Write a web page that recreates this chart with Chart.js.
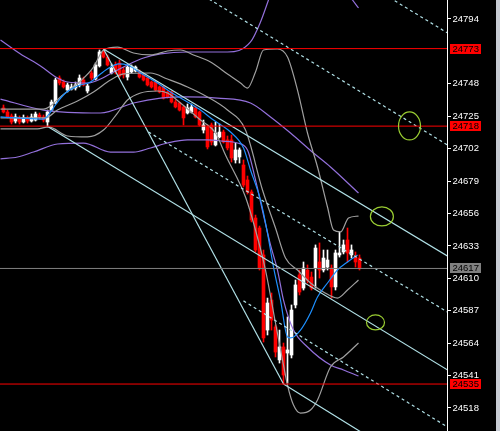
<!DOCTYPE html>
<html><head><meta charset="utf-8">
<script src="https://cdn.jsdelivr.net/npm/chart.js@4"></script>
<style>html,body{margin:0;padding:0;background:#000;overflow:hidden}canvas{display:block}</style>
</head><body>
<canvas id="c" width="500" height="431"></canvas>
<script>
// ---- candles (bar index 0..89) ----
const openP = [
24730.9,24728.0,24725.2,24721.6,24723.8,24720.9,24723.8,24721.6,24722.3,24725.9,
24724.5,24720.9,24729.4,24734.4,24752.1,24749.3,24743.6,24744.3,24745.0,24747.2,
24750.7,24742.9,24755.7,24751.4,24760.7,24770.6,24767.0,24755.7,24761.4,24762.8,
24757.8,24752.8,24756.4,24757.1,24756.4,24754.3,24752.1,24749.3,24749.3,24745.8,
24745.8,24742.2,24742.2,24735.1,24734.4,24731.6,24727.3,24728.0,24730.9,24728.0,
24715.2,24717.4,24718.8,24704.6,24710.3,24713.8,24708.2,24708.2,24694.0,24696.1,
24690.4,24679.8,24671.3,24652.8,24645.7,24626.6,24573.3,24594.6,24575.5,24552.1,
24561.3,24557.0,24555.6,24591.1,24612.4,24603.1,24615.9,24610.9,24617.3,24621.6,
24615.9,24618.0,24617.3,24603.9,24626.6,24628.7,24637.2,24626.6,24625.1,24624.4];
const highP = [
24733.0,24729.4,24726.6,24726.6,24725.2,24725.9,24725.2,24726.6,24728.0,24727.3,
24725.9,24729.4,24736.5,24752.1,24753.6,24750.7,24748.6,24747.9,24749.3,24754.3,
24752.8,24747.9,24757.1,24762.8,24772.0,24772.0,24768.5,24762.1,24763.5,24764.9,
24759.9,24761.4,24761.4,24760.7,24757.8,24755.0,24752.8,24750.0,24750.0,24746.5,
24746.5,24742.9,24742.9,24736.5,24735.1,24732.3,24733.7,24733.7,24732.3,24728.7,
24722.3,24718.8,24720.2,24720.9,24719.5,24715.2,24711.0,24711.7,24706.0,24702.5,
24694.0,24682.6,24672.7,24654.9,24647.1,24630.1,24596.0,24599.6,24576.9,24573.3,
24564.1,24582.6,24591.1,24608.8,24615.9,24621.6,24619.5,24614.5,24633.7,24635.1,
24630.1,24630.1,24619.5,24630.1,24642.9,24637.2,24645.7,24633.7,24628.7,24626.6];
const lowP = [
24727.3,24723.8,24719.5,24720.2,24719.5,24720.2,24720.2,24720.9,24721.6,24723.0,
24720.9,24717.4,24728.7,24733.7,24747.2,24745.0,24742.2,24743.6,24743.6,24745.8,
24746.5,24741.5,24750.7,24750.7,24759.9,24766.3,24760.7,24755.0,24755.0,24752.8,
24752.1,24750.7,24755.7,24756.4,24752.1,24750.0,24746.5,24745.0,24742.9,24741.5,
24737.2,24737.9,24734.4,24730.9,24728.7,24718.8,24726.6,24727.3,24723.8,24718.1,
24713.1,24701.8,24704.6,24703.9,24709.6,24706.0,24701.1,24692.5,24691.8,24691.8,
24674.8,24669.8,24650.0,24628.7,24615.9,24564.8,24569.8,24573.3,24554.2,24549.9,
24535.0,24535.7,24553.5,24589.0,24598.2,24601.7,24606.7,24601.7,24603.1,24610.2,
24614.5,24615.9,24596.0,24601.7,24625.1,24627.3,24621.6,24624.4,24618.0,24615.9];
const closeP = [
24728.0,24724.5,24720.9,24724.5,24720.9,24723.8,24721.6,24724.5,24726.6,24724.5,
24722.3,24728.0,24735.1,24750.7,24748.6,24745.8,24747.2,24745.8,24747.2,24752.1,
24747.2,24746.5,24752.1,24761.4,24770.6,24767.0,24761.4,24759.2,24756.4,24753.6,
24754.3,24759.9,24759.9,24759.9,24752.8,24750.7,24747.2,24745.8,24743.6,24742.2,
24737.9,24738.7,24735.1,24731.6,24729.4,24723.8,24730.9,24731.6,24724.5,24718.8,
24718.8,24703.2,24706.7,24713.1,24713.8,24706.7,24702.5,24695.4,24701.1,24701.1,
24676.2,24671.3,24651.4,24630.1,24617.3,24567.7,24592.5,24580.4,24557.7,24561.3,
24541.4,24559.2,24587.5,24605.3,24600.3,24617.3,24608.8,24603.1,24631.5,24615.9,
24624.4,24623.0,24603.9,24628.0,24628.0,24633.7,24628.0,24630.1,24621.6,24617.3];

// ---- indicator lines: [barIndex, price] ----
const maBlue = [[-0.75,24724.5],[3.5,24723.8],[10,24723.0],[11.75,24728.0],[13.5,24735.1],[15.5,24741.5],[18.5,24746.5],[21.75,24749.3],[24.25,24755.0],[26.75,24759.9],[28.75,24762.1],[31,24761.4],[34.25,24755.7],[38.5,24748.6],[41.75,24742.2],[46,24735.1],[49.25,24729.4],[52.5,24722.3],[56.75,24713.8],[60,24702.5],[61.75,24686.9],[64.25,24665.6],[66,24642.1],[67.5,24618.0],[69.25,24594.6],[71,24568.4],[71.75,24567.7],[74.25,24573.3],[76.75,24585.4],[78.5,24596.7],[81,24606.7],[83.5,24615.9],[86,24621.6],[88.5,24626.6]];
const purpleUpper = [[-0.75,24779.1],[4.25,24769.2],[9.25,24760.7],[13.5,24752.1],[16,24749.3],[21,24748.6],[24.25,24751.4],[27.5,24756.4],[30.5,24760.7],[35,24766.3],[39.25,24769.2],[46,24770.6],[56,24770.6],[61.75,24777.7],[64.25,24791.9],[66.25,24807.5],[68,24821.7],[76.75,24850.1],[85.5,24814.6],[87.25,24807.5],[88.75,24801.8]];
const purpleMid = [[-0.75,24737.2],[10,24729.4],[24.25,24727.3],[32.5,24734.4],[39.25,24737.9],[46,24738.7],[53.5,24737.9],[61.75,24734.4],[66.75,24724.5],[71.75,24713.1],[77.5,24698.9],[81.75,24689.0],[88.75,24670.5]];
const purpleLower = [[-0.75,24694.7],[3.5,24696.1],[7.5,24699.6],[13.5,24705.3],[20,24706.0],[26.75,24699.6],[32.5,24699.6],[36.75,24702.5],[41,24706.0],[46,24708.2],[51,24708.2],[54.75,24707.4],[58.5,24706.0],[61,24701.1],[63,24679.8],[65,24654.9],[66.75,24633.7],[68.5,24615.9],[70,24594.6],[72.5,24573.3],[76,24561.3],[81.75,24548.5],[85,24545.0],[88.75,24540.7]];
const grayUpper = [[-0.75,24730.1],[10,24730.1],[11.75,24732.3],[14.25,24738.7],[19.25,24750.0],[22.5,24759.9],[25,24772.0],[28.5,24774.1],[32.5,24769.9],[36.75,24768.5],[41,24771.3],[44.25,24772.0],[47.5,24768.5],[51.75,24763.5],[56,24755.0],[59.25,24748.6],[61,24745.0],[63,24756.4],[65,24772.0],[68.5,24772.7],[71,24767.0],[73.5,24743.6],[76,24713.1],[78.5,24689.0],[81,24660.6],[82.5,24644.3],[84.25,24642.9],[86.25,24652.8],[88.75,24654.2]];
const grayMid = [[-0.75,24723.8],[10.5,24723.8],[13.5,24729.4],[18.5,24735.8],[22.5,24742.2],[26.75,24750.7],[30,24755.0],[36.75,24755.7],[41,24751.4],[46,24745.8],[51,24738.7],[56,24729.4],[60.5,24715.2],[64.75,24672.7],[68,24645.7],[70.5,24624.4],[73.5,24615.9],[76.75,24606.7],[80,24600.3],[83.5,24596.0],[86,24601.7],[88.75,24608.8]];
const grayLower = [[-0.75,24716.0],[8.5,24716.0],[11.25,24717.4],[16,24711.0],[21,24710.3],[25,24715.2],[28.5,24727.3],[31,24736.5],[34.25,24741.5],[38.5,24742.9],[41,24741.5],[44.25,24734.4],[49.25,24722.3],[53,24713.1],[55.5,24697.5],[60.5,24667.7],[63,24644.3],[65.5,24615.9],[68,24578.3],[69.75,24552.1],[71,24534.3],[72.5,24520.1],[74.25,24514.4],[76.75,24516.6],[78.5,24523.7],[81.75,24547.1],[85,24554.2],[88.75,24564.1]];

// ---- trend lines ----
const trendSolid1 = [[25,24772.7],[111,24625.8]];
const trendSolid2 = [[11.25,24717.4],[111,24545.0]];
const trendSteep  = [[25,24772.7],[70,24535.0]];
const trendSolid3 = [[70,24535.0],[111,24463.0]];
const trendDash0 = [[85,24829.1],[111,24784.1]];
const trendDash1 = [[45,24819.2],[111,24704.6]];
const trendDash2 = [[36.25,24713.8],[111,24586.1]];
const trendDash3 = [[60,24594.0],[111,24504.5]];

// ---- levels and axis ----
const redLevels = [24773, 24718, 24535];
const lastPrice = 24617;
const yTicks = [24518,24541,24564,24587,24610,24633,24656,24679,24702,24725,24748,24794];
const marks = [[101.5,24718.1,11,14],[94.6,24653.9,11.5,9.5],[93,24578.7,9,7.5]]; // [bar, price, rx, ry]

const Y_MIN = 24501.68, Y_MAX = 24807.48;
const X_MIN = -0.875, X_MAX = 110.875;

const BULL = '#ffffff', BEAR = '#ff0000';
const candleColor = i => closeP[i] >= openP[i] ? BULL : BEAR;
const toXY = pts => pts.map(p => ({x:p[0], y:p[1]}));
function lineDS(pts, color, extra) {
  return Object.assign({type:'line', data:toXY(pts), borderColor:color, borderWidth:1.2,
    pointRadius:0, fill:false, cubicInterpolationMode:'monotone', order:0}, extra||{});
}
const CYAN = '#b0e0e6', GRAY = '#a0a0a0', PURPLE = '#9370db', BLUE = '#1e90ff';

const datasets = [];
redLevels.forEach(v => datasets.push(lineDS([[X_MIN-1,v],[X_MAX+1,v]], '#ff0000', {borderWidth:1})));
datasets.push(lineDS([[X_MIN-1,lastPrice],[X_MAX+1,lastPrice]], '#808080', {borderWidth:1}));
[trendSolid1,trendSolid2,trendSteep,trendSolid3].forEach(t => datasets.push(lineDS(t, CYAN)));
[trendDash0,trendDash1,trendDash2,trendDash3].forEach(t => datasets.push(lineDS(t, CYAN, {borderDash:[3,3]})));
datasets.push(lineDS(maBlue, BLUE));
[grayUpper,grayMid,grayLower].forEach(t => datasets.push(lineDS(t, GRAY)));
[purpleUpper,purpleMid,purpleLower].forEach(t => datasets.push(lineDS(t, PURPLE)));
datasets.push({type:'bar', data: openP.map((o,i)=>({x:i, y:[lowP[i], highP[i]]})),
  backgroundColor: c => candleColor(c.dataIndex), borderWidth:0, barThickness:1, grouped:false, order:5});
datasets.push({type:'bar', data: openP.map((o,i)=>({x:i, y:[o, closeP[i]]})),
  backgroundColor: c => candleColor(c.dataIndex), borderWidth:0, barThickness:3, minBarLength:1, grouped:false, order:4});

const FONT = {family:'Liberation Sans', size:9.5};

const deco = {
  id:'deco',
  beforeDraw(chart){ const c=chart.ctx; c.save(); c.fillStyle='#000'; c.fillRect(0,0,chart.width,chart.height); c.restore(); },
  afterDatasetsDraw(chart){
    const c=chart.ctx, xs=chart.scales.x, ys=chart.scales.y;
    c.save();
    c.strokeStyle='#9acd32'; c.lineWidth=1.2;
    marks.forEach(m => { c.beginPath(); c.ellipse(xs.getPixelForValue(m[0]), ys.getPixelForValue(m[1]), m[2], m[3], 0, 0, Math.PI*2); c.stroke(); });
    c.restore();
  },
  afterDraw(chart){
    const c=chart.ctx, ys=chart.scales.y;
    c.save();
    c.font = FONT.size+'px '+FONT.family;
    c.textBaseline='middle'; c.textAlign='left';
    const box = (v,bg) => { const y=Math.round(ys.getPixelForValue(v)); c.fillStyle=bg; c.fillRect(450,y-5,31,10); c.fillStyle='#000'; c.fillText(String(v),452.5,y+0.5); };
    redLevels.forEach(v => box(v,'#ff0000'));
    box(lastPrice,'#808080');
    c.fillStyle='#c8ccd4'; c.fillRect(496,0,4,chart.height);
    c.restore();
  }
};

new Chart(document.getElementById('c'), {
  type:'bar',
  data:{datasets},
  options:{
    responsive:false, animation:false, devicePixelRatio:1,
    layout:{padding:0},
    plugins:{legend:{display:false}, tooltip:{enabled:false}},
    scales:{
      x:{type:'linear', display:false, min:X_MIN, max:X_MAX, offset:false, grid:{offset:false}},
      y:{type:'linear', position:'right', min:Y_MIN, max:Y_MAX, beginAtZero:false,
         afterBuildTicks: s => { s.ticks = yTicks.map(v => ({value:v})); },
         afterFit: s => { s.width = 53; s.paddingTop = 0; s.paddingBottom = 0; },
         border:{display:true, color:'#ffffff', width:1},
         grid:{display:true, drawOnChartArea:false, drawTicks:true, tickLength:4, color:'#ffffff'},
         ticks:{color:'#ffffff', font:FONT, padding:1.5, callback: v => String(v)}
      }
    }
  },
  plugins:[deco]
});
</script>
</body></html>
